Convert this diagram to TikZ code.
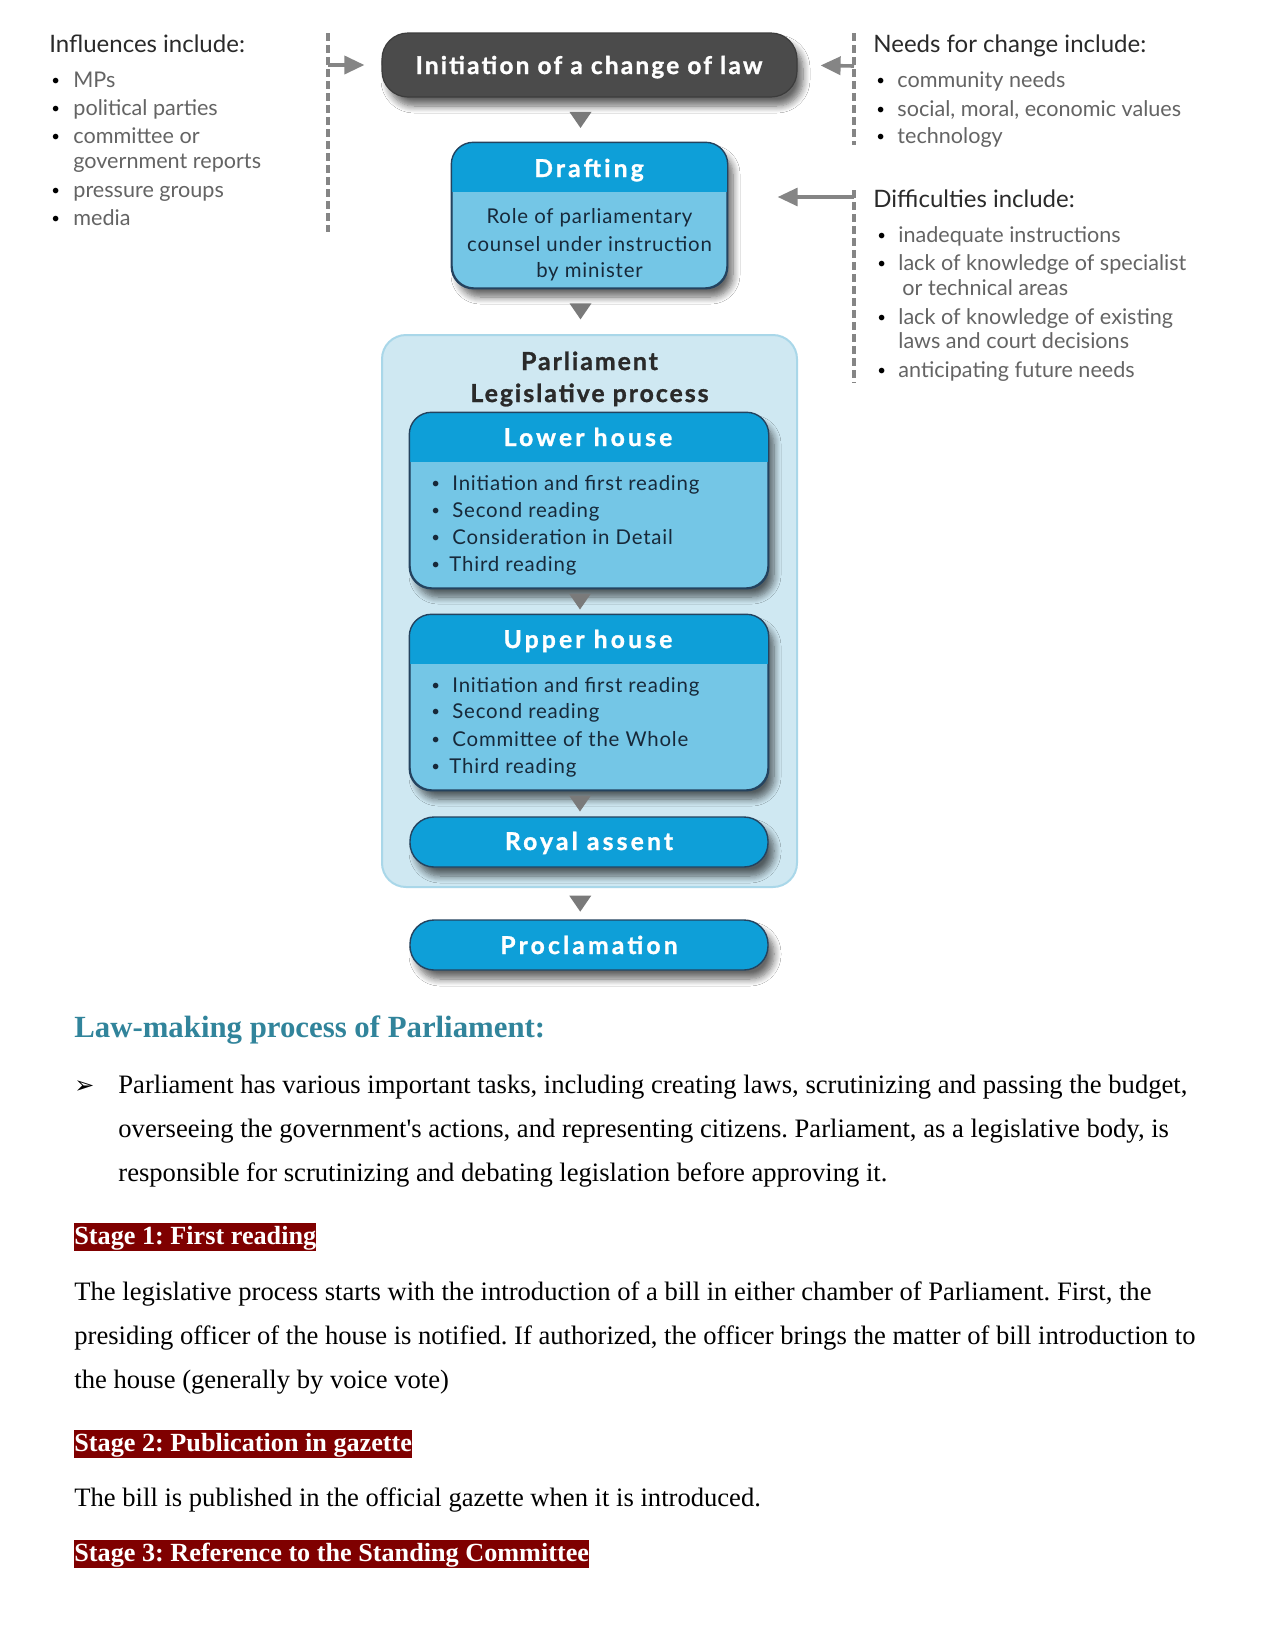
\documentclass[tikz,border=0pt]{standalone}
\usepackage{fontspec}
\setmainfont{Liberation Serif}
\newfontfamily\dg{Lato}
\newfontfamily\itmfont{Lato}[LetterSpace=4]
\newfontfamily\hdfont{Lato}[LetterSpace=13,BoldFeatures={FakeBold=1.2}]
\newfontfamily\initfont{Lato}[LetterSpace=9,BoldFeatures={FakeBold=1.2}]
\newfontfamily\parfont{Lato}[LetterSpace=8,BoldFeatures={FakeBold=1.2}]
\newfontfamily\sym{DejaVu Sans}
\usetikzlibrary{arrows.meta,calc,shadows.blur}
\definecolor{hdr}{HTML}{0E9FD8}
\definecolor{bdy}{HTML}{74C6E6}
\definecolor{bline}{HTML}{24435F}
\definecolor{navy}{HTML}{17293A}
\definecolor{darkbox}{HTML}{4B4B4B}
\definecolor{ctr}{HTML}{CFE8F2}
\definecolor{ctrline}{HTML}{A9D7E9}
\definecolor{gtxt}{HTML}{646464}
\definecolor{gh}{HTML}{2A2A2A}
\definecolor{garrow}{HTML}{858585}
\definecolor{trig}{HTML}{7A7A7A}
\definecolor{tealhd}{HTML}{31849B}
\definecolor{stagered}{HTML}{7F0000}
\newcommand\hdrfill[2]{%
  \begin{scope}
    \clip[rounded corners=11pt] (#1.south west) rectangle (#1.north east);
    \fill[hdr] (#1.north west) rectangle ([yshift=-#2*0.5pt]#1.north east);
  \end{scope}
  \draw[bline,line width=0.7pt,rounded corners=11pt] (#1.south west) rectangle (#1.north east);}
\newcommand\tridown[1]{\fill[trig] ([shift={(-11,-8)}]#1) -- ([shift={(11,-8)}]#1) -- ([shift={(0,8)}]#1) -- cycle;}
\begin{document}
\frenchspacing
\begin{tikzpicture}[x=0.5pt,y=-0.5pt,
  shad/.style={blur shadow={shadow xshift=3pt,shadow yshift=-4.5pt,shadow blur radius=3.5pt,shadow blur steps=8,shadow opacity=60}},
  bluebox/.style={draw=bline,line width=0.7pt,fill=bdy,rounded corners=11pt,inner sep=0pt,shad},
  pill/.style={draw=bline,line width=0.7pt,fill=hdr,rounded corners=12pt,inner sep=0pt,shad},
  hd/.style={font=\hdfont\bfseries\fontsize{12.3}{14}\selectfont,text=white,anchor=base,inner sep=0pt},
  dhd/.style={font=\parfont\bfseries\fontsize{12.4}{14}\selectfont,text=gh,anchor=base,inner sep=0pt},
  itm/.style={font=\itmfont\fontsize{10.2}{12}\selectfont,text=navy,anchor=base west,inner sep=0pt},
  itmb/.style={font=\dg\fontsize{7.5}{9}\selectfont,text=navy,anchor=base west,inner sep=0pt,yshift=1pt},
  ctxt/.style={font=\itmfont\fontsize{10.2}{12}\selectfont,text=navy,anchor=base,inner sep=0pt},
  side/.style={font=\dg\fontsize{10.8}{12}\selectfont,text=gtxt,anchor=base west,inner sep=0pt},
  sideb/.style={font=\dg\fontsize{7.5}{9}\selectfont,text=black,anchor=base west,inner sep=0pt,yshift=1pt},
  sidehd/.style={font=\dg\fontsize{12}{14}\selectfont,text=gh,anchor=base west,inner sep=0pt},
  body/.style={font=\fontsize{13.3}{16}\selectfont,anchor=base west,inner sep=0pt},
  stage/.style={fill=stagered,text=white,font=\bfseries\fontsize{13.1}{15}\selectfont,inner xsep=0pt,inner ysep=0pt,text height=10.5pt,text depth=3.5pt,anchor=west},
  dashln/.style={draw=garrow,line width=2pt,dash pattern=on 4pt off 2pt},
  sidearr/.style={draw=garrow,line width=1.8pt,-{Triangle[length=10pt,width=9pt]}}
]
\fill[white] (0,0) rectangle (1275,1650);
\useasboundingbox (0,0) rectangle (1275,1650);

% ---------- left list ----------
\node[sidehd] (infl) at (49,52) {Influences include:};
\node[sideb] (ib1) at (51,87) {\textbullet};
\node[side] (i1) at (73,87) {MPs};
\node[sideb] (ib2) at (51,115) {\textbullet};
\node[side] (i2) at (73,115) {political parties};
\node[sideb] (ib3) at (51,143) {\textbullet};
\node[side] (i3) at (73,143) {committee or};
\node[side] (i3b) at (73,168) {government reports};
\node[sideb] (ib4) at (51,197) {\textbullet};
\node[side] (i4) at (73,197) {pressure groups};
\node[sideb] (ib5) at (51,225) {\textbullet};
\node[side] (i5) at (73,225) {media};

% ---------- right lists ----------
\node[sidehd] (needs) at (873,52) {Needs for change include:};
\node[sideb] (nb1) at (876,87) {\textbullet};
\node[side] (n1) at (897,87) {community needs};
\node[sideb] (nb2) at (876,116) {\textbullet};
\node[side] (n2) at (897,116) {social, moral, economic values};
\node[sideb] (nb3) at (876,143) {\textbullet};
\node[side] (n3) at (897,143) {technology};

\node[sidehd] (diff) at (873,207) {Difficulties include:};
\node[sideb] (db1) at (877,242) {\textbullet};
\node[side] (d1) at (898,242) {inadequate instructions};
\node[sideb] (db2) at (877,270) {\textbullet};
\node[side] (d2) at (898,270) {lack of knowledge of specialist};
\node[side] (d2b) at (902,295) {or technical areas};
\node[sideb] (db3) at (877,324) {\textbullet};
\node[side] (d3) at (898,324) {lack of knowledge of existing};
\node[side] (d3b) at (898,348) {laws and court decisions};
\node[sideb] (db4) at (877,377) {\textbullet};
\node[side] (d4) at (898,377) {anticipating future needs};

% ---------- dashed lines ----------
\coordinate (l1t) at (328,33);  \coordinate (l1b) at (328,232);
\coordinate (l2t) at (854,33);  \coordinate (l2b) at (854,145);
\coordinate (l3t) at (854,190); \coordinate (l3b) at (854,383);
\draw[dashln] (l1t) -- (l1b);
\draw[dashln] (l2t) -- (l2b);
\draw[dashln] (l3t) -- (l3b);

% ---------- main boxes ----------
\node[draw=darkbox!80!black,line width=0.6pt,fill=darkbox,rounded corners=13pt,minimum width=415*0.5pt,minimum height=64*0.5pt,inner sep=0pt,shad] (init) at (589.5,65) {};
\node[hd,font=\initfont\bfseries\fontsize{12.2}{14}\selectfont] (init-t) at (589,74) {Initiation of a change of law};

\node[bluebox,minimum width=275*0.5pt,minimum height=145*0.5pt] (draft) at (589.5,215.5) {};
\hdrfill{draft}{50}
\node[hd] (draft-h) at (589,177) {Drafting};
\node[ctxt] (draft-1) at (589.5,223) {Role of parliamentary};
\node[ctxt] (draft-2) at (589.5,251) {counsel under instruction};
\node[ctxt] (draft-3) at (589.5,277) {by minister};

\node[draw=ctrline,line width=1pt,fill=ctr,rounded corners=12pt,minimum width=415*0.5pt,minimum height=552*0.5pt,inner sep=0pt] (parl) at (589.5,611) {};
\node[dhd] (parl-1) at (589.5,370) {Parliament};
\node[dhd] (parl-2) at (589.5,402) {Legislative process};

\node[bluebox,minimum width=358*0.5pt,minimum height=175*0.5pt] (lower) at (589,500.5) {};
\hdrfill{lower}{50}
\node[hd] (lower-h) at (588,446) {Lower house};
\node[itmb] (lb1) at (431,490) {\textbullet};
\node[itm] (l1) at (452,490) {Initiation and first reading};
\node[itmb] (lb2) at (431,517) {\textbullet};
\node[itm] (l2) at (452,517) {Second reading};
\node[itmb] (lb3) at (431,544) {\textbullet};
\node[itm] (l3) at (452,544) {Consideration in Detail};
\node[itmb] (lb4) at (431,571) {\textbullet};
\node[itm] (l4) at (449,571) {Third reading};

\node[bluebox,minimum width=358*0.5pt,minimum height=175*0.5pt] (upper) at (589,702.5) {};
\hdrfill{upper}{50}
\node[hd] (upper-h) at (588,648) {Upper house};
\node[itmb] (ub1) at (431,692) {\textbullet};
\node[itm] (u1) at (452,692) {Initiation and first reading};
\node[itmb] (ub2) at (431,718) {\textbullet};
\node[itm] (u2) at (452,718) {Second reading};
\node[itmb] (ub3) at (431,746) {\textbullet};
\node[itm] (u3) at (452,746) {Committee of the Whole};
\node[itmb] (ub4) at (431,773) {\textbullet};
\node[itm] (u4) at (449,773) {Third reading};

\node[pill,minimum width=358*0.5pt,minimum height=50*0.5pt] (royal) at (589,842) {};
\node[hd] (royal-t) at (589,850) {Royal assent};

\node[pill,minimum width=358*0.5pt,minimum height=50*0.5pt] (procl) at (589,945) {};
\node[hd] (procl-t) at (589,954) {Proclamation};

% ---------- triangles between boxes ----------
\coordinate (t1) at ($(init.south)!0.5!(draft.north)+(-9,0)$);
\coordinate (t2) at ($(draft.south)!0.5!(parl.north)+(-9,0)$);
\coordinate (t3) at ($(lower.south)!0.5!(upper.north)+(-9,0)$);
\coordinate (t4) at ($(upper.south)!0.5!(royal.north)+(-9,0)$);
\coordinate (t5) at ($(parl.south)!0.5!(procl.north)+(-9,0)$);
\tridown{t1}\tridown{t2}\tridown{t3}\tridown{t4}\tridown{t5}

% ---------- side arrows ----------
\coordinate (a1) at (328,65);
\coordinate (a2) at (854,66);
\coordinate (a3) at (854,197);
\draw[sidearr,shorten >=8.5pt] (a1) -- (init.west);
\draw[sidearr,shorten >=11.5pt] (a2) -- (init.east);
\draw[sidearr,line width=1.6pt,shorten >=25pt] (a3) -- (a3 -| draft.east);

% ---------- text below ----------
\node[body,font=\bfseries\fontsize{15.4}{18}\selectfont,text=tealhd] (lmh) at (74,1037) {Law-making process of Parliament:};
\node[body,font=\sym\fontsize{12}{14}\selectfont] (arr) at (74,1093) {➢};
\node[body] (p1) at (118,1093) {Parliament has various important tasks, including creating laws, scrutinizing and passing the budget,};
\node[body] (p2) at (118,1137) {overseeing the government\textquotesingle s actions, and representing citizens. Parliament, as a legislative body, is};
\node[body] (p3) at (118,1181) {responsible for scrutinizing and debating legislation before approving it.};

\node[stage] (s1) at (74,1237) {Stage 1: First reading};
\node[body] (q1) at (74,1300) {The legislative process starts with the introduction of a bill in either chamber of Parliament. First, the};
\node[body] (q2) at (74,1344) {presiding officer of the house is notified. If authorized, the officer brings the matter of bill introduction to};
\node[body] (q3) at (74,1388) {the house (generally by voice vote)};

\node[stage] (s2) at (74,1444) {Stage 2: Publication in gazette};
\node[body] (r1) at (74,1506) {The bill is published in the official gazette when it is introduced.};

\node[stage] (s3) at (74,1554) {Stage 3: Reference to the Standing Committee};
\end{tikzpicture}
\end{document}
